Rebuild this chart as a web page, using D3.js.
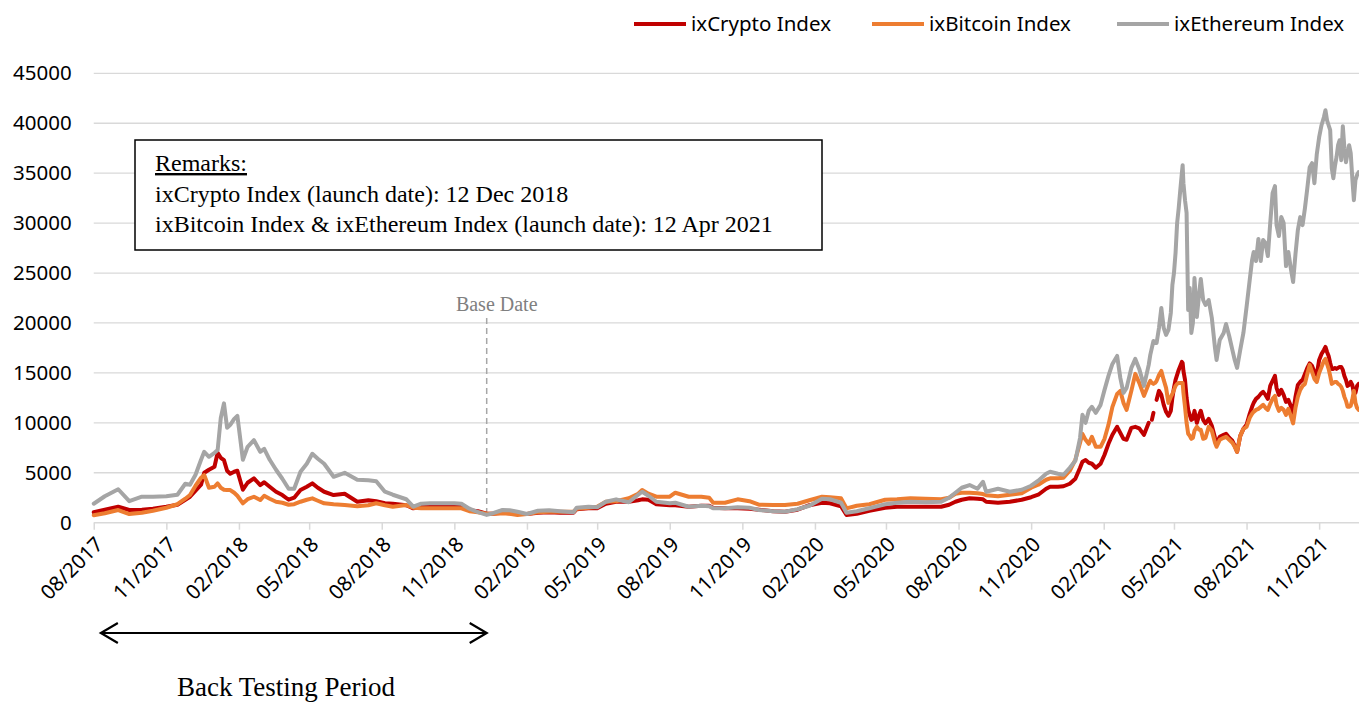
<!DOCTYPE html>
<html>
<head>
<meta charset="utf-8">
<script src="https://cdn.jsdelivr.net/npm/d3@7"></script>
<style>
  body { margin: 0; background: #fff; }
  svg { display: block; }
</style>
</head>
<body>
<div id="chart"></div>
<script>
// series names and colours (legend order = drawing order)
const seriesNames = ["ixCrypto Index", "ixBitcoin Index", "ixEthereum Index"];
const seriesColors = ["#c00000", "#ed7d31", "#a5a5a5"];

const yTicks = [0, 5000, 10000, 15000, 20000, 25000, 30000, 35000, 40000, 45000];
const xTickLabels = ["08/2017", "11/2017", "02/2018", "05/2018", "08/2018", "11/2018",
  "02/2019", "05/2019", "08/2019", "11/2019", "02/2020", "05/2020", "08/2020",
  "11/2020", "02/2021", "05/2021", "08/2021", "11/2021"];

const baseDate = "2018-12-12";
const backTestStart = "2017-08-10";

// values
const dates = [
  "2017-08-01","2017-08-15","2017-09-01","2017-09-15","2017-10-01","2017-10-15","2017-11-01","2017-11-15","2017-11-25","2017-12-01",
  "2017-12-08","2017-12-15","2017-12-19","2017-12-25","2018-01-01","2018-01-05","2018-01-09","2018-01-13","2018-01-17","2018-01-21",
  "2018-01-26","2018-01-30","2018-02-06","2018-02-12","2018-02-20","2018-02-28","2018-03-05","2018-03-12","2018-03-20","2018-03-28",
  "2018-04-05","2018-04-12","2018-04-20","2018-04-28","2018-05-05","2018-05-12","2018-05-20","2018-06-01","2018-06-15","2018-07-01",
  "2018-07-15","2018-07-25","2018-08-05","2018-08-15","2018-09-01","2018-09-10","2018-09-20","2018-10-01","2018-10-15","2018-11-01",
  "2018-11-10","2018-11-20","2018-12-01","2018-12-12","2018-12-20","2019-01-01","2019-01-10","2019-01-20","2019-02-01","2019-02-15",
  "2019-03-01","2019-03-15","2019-04-01","2019-04-05","2019-04-20","2019-05-01","2019-05-12","2019-05-25","2019-06-10","2019-06-22",
  "2019-06-27","2019-07-05","2019-07-15","2019-08-01","2019-08-08","2019-08-25","2019-09-10","2019-09-20","2019-09-25","2019-10-10",
  "2019-10-26","2019-11-10","2019-11-22","2019-12-10","2019-12-25","2020-01-10","2020-01-25","2020-02-10","2020-02-20","2020-03-05",
  "2020-03-12","2020-03-25","2020-04-10","2020-04-30","2020-05-15","2020-06-01","2020-06-20","2020-07-10","2020-07-20","2020-07-28",
  "2020-08-05","2020-08-15","2020-08-25","2020-09-01","2020-09-05","2020-09-20","2020-10-05","2020-10-20","2020-11-01","2020-11-10",
  "2020-11-20","2020-11-25","2020-12-05","2020-12-12","2020-12-20","2020-12-27","2021-01-02","2021-01-05","2021-01-09","2021-01-13",
  "2021-01-17","2021-01-22","2021-01-28","2021-02-02","2021-02-07","2021-02-12","2021-02-18","2021-02-22","2021-02-26","2021-03-02",
  "2021-03-08","2021-03-13","2021-03-18","2021-03-24","2021-03-30","2021-04-01","2021-04-03","2021-04-05","2021-04-07","2021-04-09",
  "2021-04-12","2021-04-15","2021-04-18","2021-04-21","2021-04-24","2021-04-27","2021-04-29","2021-05-01","2021-05-03","2021-05-05",
  "2021-05-07","2021-05-09","2021-05-11","2021-05-12","2021-05-13","2021-05-15","2021-05-17","2021-05-19","2021-05-21","2021-05-23",
  "2021-05-25","2021-05-27","2021-05-30","2021-06-02","2021-06-04","2021-06-07","2021-06-10","2021-06-14","2021-06-18","2021-06-22",
  "2021-06-24","2021-06-28","2021-07-03","2021-07-06","2021-07-10","2021-07-14","2021-07-17","2021-07-20","2021-07-24","2021-07-28",
  "2021-08-01","2021-08-05","2021-08-08","2021-08-10","2021-08-13","2021-08-16","2021-08-19","2021-08-22","2021-08-25","2021-08-28",
  "2021-08-31","2021-09-03","2021-09-06","2021-09-08","2021-09-11","2021-09-14","2021-09-17","2021-09-20","2021-09-23","2021-09-26",
  "2021-09-29","2021-10-02","2021-10-05","2021-10-08","2021-10-11","2021-10-14","2021-10-17","2021-10-20","2021-10-23","2021-10-26",
  "2021-10-29","2021-11-01","2021-11-04","2021-11-07","2021-11-09","2021-11-11","2021-11-13","2021-11-15","2021-11-17","2021-11-19",
  "2021-11-21","2021-11-23","2021-11-25","2021-11-27","2021-11-29","2021-12-01","2021-12-03","2021-12-05","2021-12-07","2021-12-09",
  "2021-12-11","2021-12-13","2021-12-15","2021-12-17","2021-12-19","2021-12-21"
];

const ixCrypto = [
  1050,1300,1600,1270,1300,1400,1600,1800,2300,2600,
  3200,3800,5000,5300,5600,7000,6500,6270,5200,4900,
  5100,5200,3300,4000,4440,3770,4050,3600,3100,2770,
  2300,2500,3270,3600,3940,3500,3100,2770,2900,2100,
  2250,2150,1950,1900,1750,1440,1600,1600,1600,1600,
  1580,1250,1150,900,900,1000,950,870,870,1000,
  1050,1000,1000,1350,1450,1450,1900,2100,2100,2250,
  2340,2300,1850,1750,1750,1600,1700,1700,1500,1440,
  1450,1400,1300,1150,1100,1300,1750,2000,1950,1650,
  770,900,1200,1500,1600,1600,1600,1600,1800,2100,
  2300,2440,2400,2340,2100,2000,2100,2300,2550,2800,
  3400,3600,3600,3650,3900,4400,5500,6100,6270,6000,
  5900,5500,5900,6800,7900,8800,9600,9000,8400,8300,
  9500,9600,9450,8800,10000,null,10300,11000,null,12300,
  13200,12800,11800,11100,10700,11200,12500,13500,14300,14800,
  15300,15700,16100,16000,15200,14300,12500,11300,10800,10300,
  10400,11200,10000,10800,11200,10300,9950,10400,9700,8500,
  7950,8600,8800,8900,8500,8200,7700,7100,8700,9400,
  9800,10900,11600,12000,12400,12600,12900,13100,12800,12400,
  13700,14200,14700,13500,12800,13300,12800,12100,12300,11700,
  10950,12600,13800,14100,14300,14900,15500,15950,15700,15100,
  14800,16300,16900,17300,17600,17100,16700,16000,15400,15400,
  15500,15400,15500,15600,15600,15300,14700,14300,13700,13800,
  14100,13800,13000,13000,13700,13900
];

const ixBitcoin = [
  750,950,1270,870,1000,1200,1500,1850,2400,2770,
  3700,4500,4770,3500,3600,3940,3500,3300,3270,3270,
  3000,2700,1940,2350,2600,2270,2700,2400,2100,2000,
  1800,1850,2100,2300,2440,2200,1940,1850,1770,1650,
  1750,1950,1750,1600,1770,1500,1440,1440,1440,1440,
  1440,1150,1050,900,900,950,900,780,870,1050,
  1100,1100,1100,1400,1500,1600,2100,2150,2450,2900,
  3270,2900,2600,2600,3000,2600,2600,2500,2000,2000,
  2340,2150,1800,1770,1770,1900,2250,2600,2550,2450,
  1440,1700,1850,2300,2350,2450,2400,2340,2500,2900,
  3000,3000,2950,2870,2750,2650,2800,2950,3500,3800,
  4300,4440,4440,4500,5200,6300,8000,8900,8300,7900,
  8600,7600,7600,8400,9800,11600,12900,13200,12000,11300,
  13200,14900,14000,12700,13900,14200,14000,13900,14000,14200,
  14800,15200,14300,13500,12000,12600,12900,13300,13700,13900,
  14000,14000,14000,14000,13000,11600,10000,8900,8700,8400,
  8500,9200,9600,9300,9300,8400,8500,9600,9200,8000,
  7600,8300,8500,8600,8300,8000,7600,7100,8700,9400,
  9600,10500,10900,11100,11300,11400,11600,11800,11500,11300,
  11900,12400,12700,11800,11200,11500,11300,10800,11400,10700,
  9950,11500,12600,13300,13700,13900,14900,15800,15100,14400,
  14100,15000,15600,16200,16400,15900,15400,14700,13900,14000,
  14100,14100,13900,13800,13600,13200,12600,12200,11600,11600,
  11700,12300,13200,12000,11500,11300
];

const ixEthereum = [
  1900,2650,3350,2150,2600,2600,2650,2800,3900,3800,
  4800,6300,7100,6600,7000,7270,10500,11950,9500,9800,
  10400,10700,6300,7600,8270,7100,7400,6300,5300,4400,
  3400,3400,5100,5900,6900,6400,5900,4600,5000,4300,
  4250,4150,3100,2800,2350,1600,1900,1940,1940,1940,
  1900,1400,1050,780,950,1270,1250,1100,870,1200,
  1250,1150,1050,1500,1600,1550,2100,2340,2050,2800,
  3100,2700,2100,1940,2000,1600,1700,1650,1440,1440,
  1550,1500,1270,1150,1100,1350,1700,2400,2350,2000,
  1000,1150,1450,1850,2000,2100,2050,2100,2500,3000,
  3500,3770,3400,4100,3100,3400,3100,3300,3700,4200,
  4900,5100,4900,4800,5500,6200,8500,10800,10000,11200,
  11600,11000,11800,13300,14700,15900,16700,14500,13000,13500,
  15500,16400,15400,13700,15800,16800,17500,18200,18000,18000,
  19500,21500,19500,18800,19300,21000,23800,25000,27000,30000,
  31500,33300,35000,35800,34000,32300,31000,21300,23500,19000,
  20000,24500,20600,23000,24400,22300,21800,22300,20500,17500,
  16300,18300,19000,19900,18700,17300,16300,15500,17300,19000,
  21600,24300,26300,27100,26200,28400,26200,28300,28000,26700,
  30000,33000,33700,29800,28700,30600,30000,25700,27100,25500,
  24100,26900,29300,30600,29800,31500,33500,35600,36000,34000,
  36900,38600,39800,40600,41300,40300,39800,39300,35500,34500,
  35700,36600,37800,38300,36300,39700,37500,36100,37000,37800,
  37000,34500,32300,34300,34800,35100
];

const remarks = [
  "Remarks:",
  "ixCrypto Index (launch date): 12 Dec 2018",
  "ixBitcoin Index & ixEthereum Index (launch date): 12 Apr 2021"
];

const width = 1359, height = 704;
const plotLeft = 93.75, plotRight = 1358.6, plotTop = 73.3, plotBottom = 522.7;

const parseDay = d3.utcParse("%Y-%m-%d");
const parseMonth = d3.utcParse("%m/%Y");

const svg = d3.select("#chart").append("svg")
  .attr("width", width)
  .attr("height", height);

const x = d3.scaleUtc()
  .domain([parseDay(dates[0]), parseDay(dates[dates.length - 1])])
  .range([plotLeft, plotRight]);

const y = d3.scaleLinear()
  .domain([0, 45000])
  .range([plotBottom, plotTop]);

// gridlines
svg.append("g")
  .selectAll("line")
  .data(yTicks.filter(d => d > 0))
  .enter().append("line")
  .attr("x1", plotLeft)
  .attr("x2", width)
  .attr("y1", d => y(d))
  .attr("y2", d => y(d))
  .attr("stroke", "#d9d9d9")
  .attr("stroke-width", 1.3);

// y axis labels
const yAxis = svg.append("g")
  .attr("transform", `translate(${plotLeft},0)`)
  .call(d3.axisLeft(y).tickValues(yTicks).tickSize(0).tickPadding(22).tickFormat(d3.format("d")));
yAxis.select(".domain").remove();
yAxis.selectAll("text")
  .style("font-family", "'Noto Sans', sans-serif")
  .style("font-size", "20.5px")
  .attr("fill", "#000");

// x axis
const xAxis = svg.append("g")
  .attr("transform", `translate(0,${plotBottom})`)
  .call(d3.axisBottom(x)
    .tickValues(xTickLabels.map(parseMonth))
    .tickFormat(d3.utcFormat("%m/%Y"))
    .tickSize(7)
    .tickSizeOuter(0));
xAxis.select(".domain")
  .attr("d", `M${plotLeft},0H${width}`)
  .attr("stroke", "#d9d9d9")
  .attr("stroke-width", 1.5);
xAxis.selectAll(".tick line")
  .attr("stroke", "#d9d9d9")
  .attr("stroke-width", 1.5);
xAxis.selectAll(".tick text")
  .style("font-family", "'Noto Sans', sans-serif")
  .style("font-size", "20.5px")
  .attr("fill", "#000")
  .attr("text-anchor", "end")
  .attr("transform", "translate(5,18) rotate(-45)")
  .attr("dy", "0.35em")
  .attr("y", 0)
  .attr("x", 0);

// remarks box
svg.append("rect")
  .attr("x", 135)
  .attr("y", 140)
  .attr("width", 687)
  .attr("height", 110)
  .attr("fill", "#fff")
  .attr("stroke", "#000")
  .attr("stroke-width", 1.5);

svg.append("g")
  .selectAll("text")
  .data(remarks)
  .enter().append("text")
  .attr("x", 155)
  .attr("y", (d, i) => 171 + i * 30.5)
  .style("font-family", "'Liberation Serif', 'Times New Roman', serif")
  .style("font-size", "24px")
  .style("text-decoration", (d, i) => i === 0 ? "underline" : "none")
  .text(d => d);

// base date marker
const bx = x(parseDay(baseDate));
svg.append("line")
  .attr("x1", bx).attr("x2", bx)
  .attr("y1", 318).attr("y2", 516)
  .attr("stroke", "#a6a6a6")
  .attr("stroke-width", 1.5)
  .attr("stroke-dasharray", "6,4");
svg.append("text")
  .attr("x", bx + 10)
  .attr("y", 311)
  .attr("text-anchor", "middle")
  .attr("fill", "#808080")
  .style("font-family", "'Liberation Serif', 'Times New Roman', serif")
  .style("font-size", "20px")
  .text("Base Date");

// lines
const line = d3.line()
  .defined(d => d.v !== null)
  .x(d => x(d.date))
  .y(d => y(d.v));

const seriesValues = [ixCrypto, ixBitcoin, ixEthereum];
seriesValues.forEach((vals, k) => {
  const pts = dates.map((d, i) => ({ date: parseDay(d), v: vals[i] }));
  svg.append("path")
    .datum(pts)
    .attr("fill", "none")
    .attr("stroke", seriesColors[k])
    .attr("stroke-width", 4)
    .attr("stroke-linejoin", "round")
    .attr("stroke-linecap", "round")
    .attr("d", line);
});

// legend
const legendX = [634, 872, 1117];
const legend = svg.append("g");
seriesNames.forEach((name, k) => {
  legend.append("line")
    .attr("x1", legendX[k]).attr("x2", legendX[k] + 52)
    .attr("y1", 24).attr("y2", 24)
    .attr("stroke", seriesColors[k])
    .attr("stroke-width", 4);
  legend.append("text")
    .attr("x", legendX[k] + 57)
    .attr("y", 31)
    .style("font-family", "'Noto Sans', sans-serif")
    .style("font-size", "20.5px")
    .text(name);
});

// back testing period arrow
const ax1 = x(parseDay(backTestStart)), ax2 = bx;
const ay = 633;
const arrow = svg.append("g")
  .attr("stroke", "#000")
  .attr("stroke-width", 2.2)
  .attr("fill", "none");
arrow.append("line").attr("x1", ax1).attr("x2", ax2).attr("y1", ay).attr("y2", ay);
arrow.append("path").attr("d", `M${ax1 + 17},${ay - 10}L${ax1},${ay}L${ax1 + 17},${ay + 10}`);
arrow.append("path").attr("d", `M${ax2 - 17},${ay - 10}L${ax2},${ay}L${ax2 - 17},${ay + 10}`);

svg.append("text")
  .attr("x", 286)
  .attr("y", 696)
  .attr("text-anchor", "middle")
  .style("font-family", "'Liberation Serif', 'Times New Roman', serif")
  .style("font-size", "27px")
  .text("Back Testing Period");
</script>
</body>
</html>
